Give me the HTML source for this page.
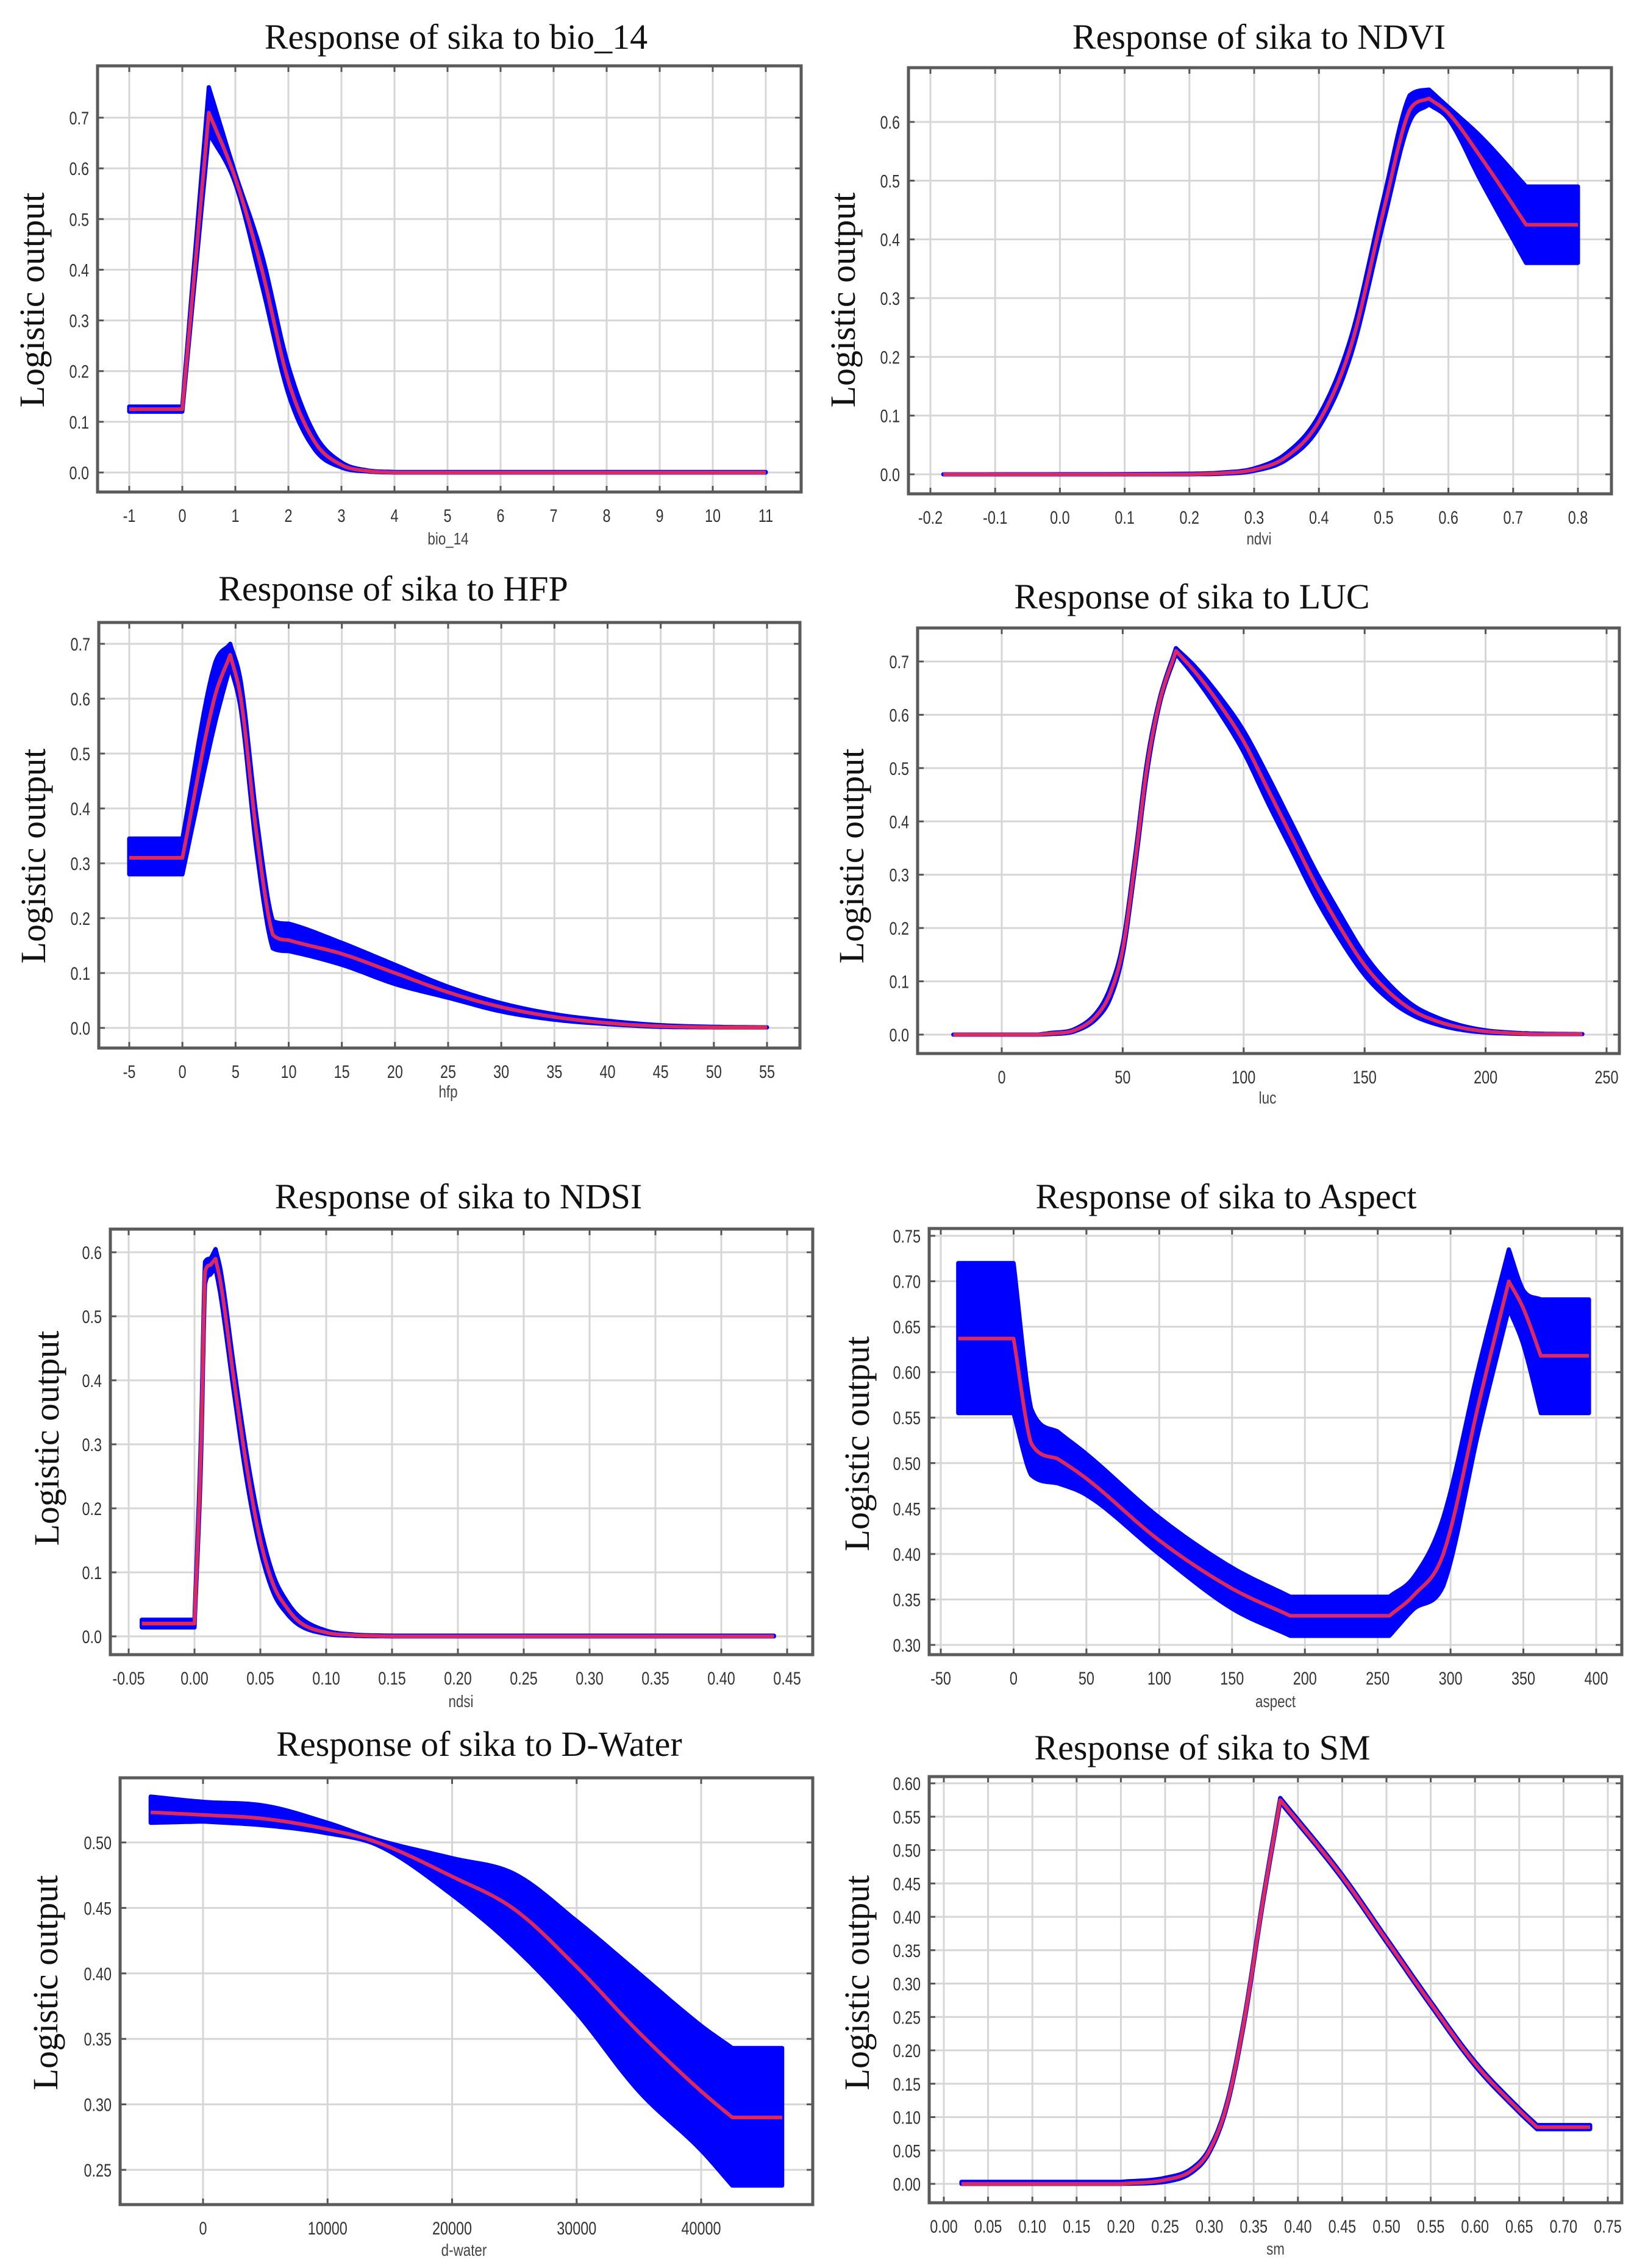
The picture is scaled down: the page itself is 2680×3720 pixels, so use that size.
<!DOCTYPE html>
<html><head><meta charset="utf-8"><style>
html,body{margin:0;padding:0;background:#fff}
svg{display:block}
</style></head><body>
<svg id="fig" xmlns="http://www.w3.org/2000/svg" width="2680" height="3720" viewBox="0 0 2680 3720"></svg>
<script>
// ---- Data: bio_14
const bioX=[-1,0,0.5,1,1.5,2,2.5,3,3.5,4,11];
const bioMean=[0.125,0.125,0.71,0.58,0.40,0.18,0.06,0.015,0.003,0,0];
const bioUp=[0.13,0.13,0.76,0.59,0.43,0.21,0.075,0.02,0.004,0.001,0.001];
const bioLo=[0.12,0.12,0.67,0.57,0.37,0.155,0.045,0.01,0.002,0,0];
const bioXTicks=[-1,0,1,2,3,4,5,6,7,8,9,10,11];
const bioYTicks=["0.0","0.1","0.2","0.3","0.4","0.5","0.6","0.7"];
// ---- NDVI
const ndviX=[-0.18,0.2,0.25,0.3,0.35,0.4,0.45,0.5,0.54,0.57,0.6,0.65,0.72,0.8];
const ndviMean=[0,0,0.002,0.008,0.03,0.09,0.22,0.45,0.62,0.64,0.615,0.54,0.425,0.425];
const ndviUp=[0,0.001,0.003,0.01,0.036,0.1,0.235,0.47,0.645,0.655,0.625,0.575,0.49,0.49];
const ndviLo=[0,0,0.001,0.006,0.025,0.08,0.205,0.43,0.6,0.63,0.605,0.5,0.36,0.36];
const ndviXTicks=[-0.2,-0.1,0,0.1,0.2,0.3,0.4,0.5,0.6,0.7,0.8];
const ndviYTicks=["0.0","0.1","0.2","0.3","0.4","0.5","0.6"];
// ---- HFP
const hfpX=[-5,0,3,4.5,5.5,7,8.5,10,15,20,25,30,35,40,45,50,55];
const hfpMean=[0.31,0.31,0.6,0.68,0.6,0.35,0.17,0.16,0.135,0.1,0.065,0.038,0.02,0.009,0.003,0.001,0.001];
const hfpUp=[0.345,0.345,0.66,0.70,0.63,0.38,0.195,0.19,0.155,0.115,0.075,0.045,0.025,0.013,0.005,0.002,0.001];
const hfpLo=[0.28,0.28,0.55,0.66,0.58,0.32,0.145,0.14,0.115,0.08,0.055,0.03,0.015,0.007,0.002,0.001,0.001];
const hfpXTicks=[-5,0,5,10,15,20,25,30,35,40,45,50,55];
const hfpYTicks=["0.0","0.1","0.2","0.3","0.4","0.5","0.6","0.7"];
// ---- LUC
const lucX=[-20,15,20,30,40,45,50,55,60,65,72,80,90,100,110,120,130,140,150,160,170,180,190,200,210,220,240];
const lucMean=[0,0,0.002,0.008,0.04,0.08,0.16,0.32,0.5,0.62,0.72,0.68,0.62,0.55,0.46,0.37,0.28,0.2,0.13,0.08,0.045,0.025,0.013,0.006,0.003,0.001,0.001];
const lucUp=[0,0,0.003,0.01,0.046,0.09,0.17,0.33,0.51,0.625,0.725,0.69,0.635,0.57,0.485,0.395,0.305,0.225,0.15,0.095,0.055,0.032,0.017,0.008,0.004,0.002,0.001];
const lucLo=[0,0,0.001,0.006,0.034,0.07,0.15,0.31,0.49,0.615,0.715,0.67,0.605,0.53,0.435,0.345,0.255,0.178,0.112,0.066,0.036,0.019,0.009,0.004,0.002,0.001,0.001];
const lucXTicks=[0,50,100,150,200,250];
const lucYTicks=["0.0","0.1","0.2","0.3","0.4","0.5","0.6","0.7"];
// ---- NDSI
const ndsiX=[-0.04,0,0.005,0.008,0.012,0.016,0.02,0.03,0.04,0.05,0.06,0.07,0.08,0.1,0.12,0.15,0.44];
const ndsiMean=[0.02,0.02,0.3,0.57,0.58,0.59,0.55,0.4,0.26,0.15,0.08,0.045,0.022,0.006,0.002,0,0];
const ndsiUp=[0.026,0.026,0.32,0.585,0.59,0.605,0.57,0.42,0.28,0.17,0.095,0.055,0.03,0.009,0.003,0.001,0.001];
const ndsiLo=[0.014,0.014,0.28,0.55,0.565,0.575,0.53,0.38,0.24,0.135,0.068,0.036,0.017,0.004,0.001,0,0];
const ndsiXTicks=[-0.05,0,0.05,0.1,0.15,0.2,0.25,0.3,0.35,0.4,0.45];
const ndsiYTicks=["0.0","0.1","0.2","0.3","0.4","0.5","0.6"];
// ---- Aspect
const aspX=[-38,0,12,30,50,100,150,190,258,275,295,320,340,350,362,395];
const aspMean=[0.637,0.637,0.522,0.505,0.483,0.415,0.362,0.332,0.332,0.355,0.40,0.57,0.70,0.67,0.618,0.618];
const aspUp=[0.72,0.72,0.56,0.535,0.51,0.44,0.385,0.353,0.353,0.375,0.44,0.61,0.735,0.69,0.68,0.68];
const aspLo=[0.555,0.555,0.487,0.478,0.465,0.40,0.34,0.31,0.31,0.34,0.365,0.54,0.67,0.63,0.555,0.555];
const aspXTicks=[-50,0,50,100,150,200,250,300,350,400];
const aspYTicks=["0.30","0.35","0.40","0.45","0.50","0.55","0.60","0.65","0.70","0.75"];
// ---- D-Water
const dwX=[-4200,0,5000,10000,14000,20000,25000,30000,35000,40000,42500,46500];
const dwMean=[0.523,0.521,0.518,0.51,0.5,0.474,0.449,0.405,0.355,0.31,0.29,0.29];
const dwUp=[0.535,0.531,0.528,0.515,0.502,0.488,0.476,0.44,0.40,0.36,0.343,0.343];
const dwLo=[0.515,0.516,0.513,0.507,0.498,0.46,0.42,0.37,0.31,0.265,0.238,0.238];
const dwXTicks=[0,10000,20000,30000,40000];
const dwYTicks=["0.25","0.30","0.35","0.40","0.45","0.50"];
// ---- SM
const smX=[0.02,0.2,0.25,0.28,0.3,0.32,0.34,0.36,0.38,0.45,0.5,0.55,0.6,0.65,0.67,0.73];
const smMean=[0,0,0.006,0.02,0.05,0.12,0.25,0.42,0.575,0.46,0.365,0.27,0.18,0.11,0.085,0.085];
const smUp=smMean.map(v=>v+0.003);
const smLo=smMean.map(v=>Math.max(0,v-0.003));
const smXTicks=[0,0.05,0.1,0.15,0.2,0.25,0.3,0.35,0.4,0.45,0.5,0.55,0.6,0.65,0.7,0.75];
const smYTicks=["0.00","0.05","0.10","0.15","0.20","0.25","0.30","0.35","0.40","0.45","0.50","0.55","0.60"];

const NS="http://www.w3.org/2000/svg";
const svg=document.getElementById('fig');
function mk(tag,attrs,parent){const e=document.createElementNS(NS,tag);for(const k in attrs)e.setAttribute(k,attrs[k]);(parent||svg).appendChild(e);return e;}

// monotone cubic with sharp corners kept at extrema / flat joins
function smooth(xs,ys){
  const n=xs.length, d=[];
  for(let i=0;i<n-1;i++)d.push((ys[i+1]-ys[i])/(xs[i+1]-xs[i]));
  const mL=new Array(n).fill(0), mR=new Array(n).fill(0);
  mR[0]=d[0]; mL[n-1]=d[n-2];
  for(let i=1;i<n-1;i++){
    if(d[i-1]*d[i]<=0){ mL[i]=d[i-1]; mR[i]=d[i]; }
    else { const m=(d[i-1]+d[i])/2; mL[i]=m; mR[i]=m; }
  }
  const out=[];
  for(let i=0;i<n-1;i++){
    const h=xs[i+1]-xs[i];
    let a0=mR[i], a1=mL[i+1];
    if(d[i]===0){a0=0;a1=0;}
    else{
      const a=a0/d[i], b=a1/d[i], s=a*a+b*b;
      if(s>9){const t=3/Math.sqrt(s);a0=t*a*d[i];a1=t*b*d[i];}
    }
    for(let k=0;k<12;k++){
      const t=k/12,t2=t*t,t3=t2*t;
      const y=(2*t3-3*t2+1)*ys[i]+(t3-2*t2+t)*h*a0+(-2*t3+3*t2)*ys[i+1]+(t3-t2)*h*a1;
      out.push([xs[i]+t*h,y]);
    }
  }
  out.push([xs[n-1],ys[n-1]]);
  return out;
}

function panel(cfg){
  const g=mk('g',{});
  
  
  const sx=v=>cfg.xp0+(v-cfg.xv0)*(cfg.xp1-cfg.xp0)/(cfg.xv1-cfg.xv0);
  const sy=v=>cfg.yp0+(v-cfg.yv0)*(cfg.yp1-cfg.yp0)/(cfg.yv1-cfg.yv0);
  cfg.xt.forEach(t=>{
    const l=mk('line',{x1:sx(t),x2:sx(t),y1:cfg.T,y2:cfg.B,stroke:'#d6d6d6','stroke-width':3},g);
    
    
    mk('line',{x1:sx(t),x2:sx(t),y1:cfg.B,y2:cfg.B-10,stroke:'#555','stroke-width':3},g);
    mk('line',{x1:sx(t),x2:sx(t),y1:cfg.T,y2:cfg.T+10,stroke:'#555','stroke-width':3},g);
    const lab=(cfg.xfmt?cfg.xfmt(t):String(t));
    const tg=mk('g',{transform:`translate(${sx(t)},${cfg.B+49}) scale(0.78,1)`},g);
    const tx=mk('text',{x:0,y:0,'text-anchor':'middle','font-family':'Liberation Sans, sans-serif','font-size':30,fill:'#333'},tg);
    tx.textContent=lab;
    
    
  });
  cfg.yt.forEach(s=>{
    const v=parseFloat(s);
    const l=mk('line',{x1:cfg.L,x2:cfg.R,y1:sy(v),y2:sy(v),stroke:'#d6d6d6','stroke-width':3},g);
    
    
    mk('line',{x1:cfg.L,x2:cfg.L+10,y1:sy(v),y2:sy(v),stroke:'#555','stroke-width':3},g);
    mk('line',{x1:cfg.R,x2:cfg.R-10,y1:sy(v),y2:sy(v),stroke:'#555','stroke-width':3},g);
    const tg=mk('g',{transform:`translate(${cfg.L-14},${sy(v)+11}) scale(0.78,1)`},g);
    const tx=mk('text',{x:0,y:0,'text-anchor':'end','font-family':'Liberation Sans, sans-serif','font-size':30,fill:'#333'},tg);
    tx.textContent=s;
    
    
  });
  const up=smooth(cfg.x,cfg.up), lo=smooth(cfg.x,cfg.lo), me=smooth(cfg.x,cfg.mean);
  let d='M';
  up.forEach((p,i)=>{d+=(i?' L':'')+sx(p[0]).toFixed(1)+','+sy(p[1]).toFixed(1);});
  for(let i=lo.length-1;i>=0;i--)d+=' L'+sx(lo[i][0]).toFixed(1)+','+sy(lo[i][1]).toFixed(1);
  d+=' Z';
  const band=mk('path',{d:d,fill:'#0000ff',stroke:'#0000ff','stroke-width':7,'stroke-linejoin':'round'},g);
  
  
  const pts=me.map(p=>sx(p[0]).toFixed(1)+','+sy(p[1]).toFixed(1)).join(' ');
  const ln=mk('polyline',{points:pts,fill:'none',stroke:'#dc2a5e','stroke-width':6,'stroke-linejoin':'round'},g);
  
  
  const fr=mk('rect',{x:cfg.L,y:cfg.T,width:cfg.R-cfg.L,height:cfg.B-cfg.T,fill:'none',stroke:'#5a5a5a','stroke-width':5},g);
  
  
  const tt=mk('text',{x:cfg.tx,y:cfg.ty,'text-anchor':'middle','font-family':'Liberation Serif, serif','font-size':58,fill:'#111'},g);
  tt.textContent=cfg.title;
  
  
  const yl=mk('text',{x:0,y:0,transform:`translate(${cfg.ylx},${cfg.yly}) rotate(-90)`,'text-anchor':'middle','font-family':'Liberation Serif, serif','font-size':58,fill:'#111'},g);
  yl.textContent='Logistic output';
  
  
  const xg=mk('g',{transform:`translate(${cfg.xlx},${cfg.xly}) scale(0.8,1)`},g);
  const xl=mk('text',{x:0,y:0,'text-anchor':'middle','font-family':'Liberation Sans, sans-serif','font-size':28,fill:'#444'},xg);
  xl.textContent=cfg.xlabel;
  
  
}

const f2=t=>t.toFixed(2), f1=t=>t.toFixed(1);
panel({id:'bio14',title:'Response of sika to bio_14',xlabel:'bio_14',L:160,R:1314,T:108,B:807,
  xv0:-1,xv1:11,xp0:212,xp1:1256,yv0:0,yv1:0.7,yp0:775,yp1:193,
  x:bioX,mean:bioMean,up:bioUp,lo:bioLo,xt:bioXTicks,yt:bioYTicks,
  tx:748,ty:80,ylx:72,yly:492,xlx:735,xly:893});
panel({id:'ndvi',title:'Response of sika to NDVI',xlabel:'ndvi',L:1490,R:2643,T:111,B:810,
  xv0:-0.2,xv1:0.8,xp0:1526,xp1:2588,yv0:0,yv1:0.6,yp0:778,yp1:200,
  x:ndviX,mean:ndviMean,up:ndviUp,lo:ndviLo,xt:ndviXTicks,yt:ndviYTicks,xfmt:f1,
  tx:2065,ty:80,ylx:1402,yly:492,xlx:2065,xly:893});
panel({id:'hfp',title:'Response of sika to HFP',xlabel:'hfp',L:162,R:1312,T:1021,B:1719,
  xv0:-5,xv1:55,xp0:212,xp1:1258,yv0:0,yv1:0.7,yp0:1686,yp1:1056,
  x:hfpX,mean:hfpMean,up:hfpUp,lo:hfpLo,xt:hfpXTicks,yt:hfpYTicks,
  tx:645,ty:985,ylx:74,yly:1404,xlx:735,xly:1800});
panel({id:'luc',title:'Response of sika to LUC',xlabel:'luc',L:1505,R:2656,T:1030,B:1728,
  xv0:0,xv1:250,xp0:1643,xp1:2635,yv0:0,yv1:0.7,yp0:1697,yp1:1085,
  x:lucX,mean:lucMean,up:lucUp,lo:lucLo,xt:lucXTicks,yt:lucYTicks,
  tx:1955,ty:998,ylx:1416,yly:1404,xlx:2079,xly:1810});
panel({id:'ndsi',title:'Response of sika to NDSI',xlabel:'ndsi',L:181,R:1333,T:2016,B:2714,
  xv0:-0.05,xv1:0.45,xp0:211,xp1:1291,yv0:0,yv1:0.6,yp0:2684,yp1:2054,
  x:ndsiX,mean:ndsiMean,up:ndsiUp,lo:ndsiLo,xt:ndsiXTicks,yt:ndsiYTicks,xfmt:f2,
  tx:752,ty:1982,ylx:96,yly:2359,xlx:756,xly:2800});
panel({id:'aspect',title:'Response of sika to Aspect',xlabel:'aspect',L:1524,R:2660,T:2015,B:2714,
  xv0:-50,xv1:400,xp0:1543,xp1:2618,yv0:0.30,yv1:0.75,yp0:2698,yp1:2027,
  x:aspX,mean:aspMean,up:aspUp,lo:aspLo,xt:aspXTicks,yt:aspYTicks,
  tx:2011,ty:1982,ylx:1425,yly:2368,xlx:2092,xly:2800});
panel({id:'dwater',title:'Response of sika to D-Water',xlabel:'d-water',L:197,R:1333,T:2916,B:3616,
  xv0:0,xv1:40000,xp0:333,xp1:1150,yv0:0.25,yv1:0.50,yp0:3559,yp1:3022,
  x:dwX,mean:dwMean,up:dwUp,lo:dwLo,xt:dwXTicks,yt:dwYTicks,
  tx:786,ty:2880,ylx:94,yly:3252,xlx:761,xly:3700});
panel({id:'sm',title:'Response of sika to SM',xlabel:'sm',L:1524,R:2660,T:2914,B:3613,
  xv0:0,xv1:0.75,xp0:1548,xp1:2637,yv0:0,yv1:0.60,yp0:3582,yp1:2925,
  x:smX,mean:smMean,up:smUp,lo:smLo,xt:smXTicks,yt:smYTicks,xfmt:f2,
  tx:1972,ty:2886,ylx:1425,yly:3252,xlx:2092,xly:3698});
</script>
</body></html>
